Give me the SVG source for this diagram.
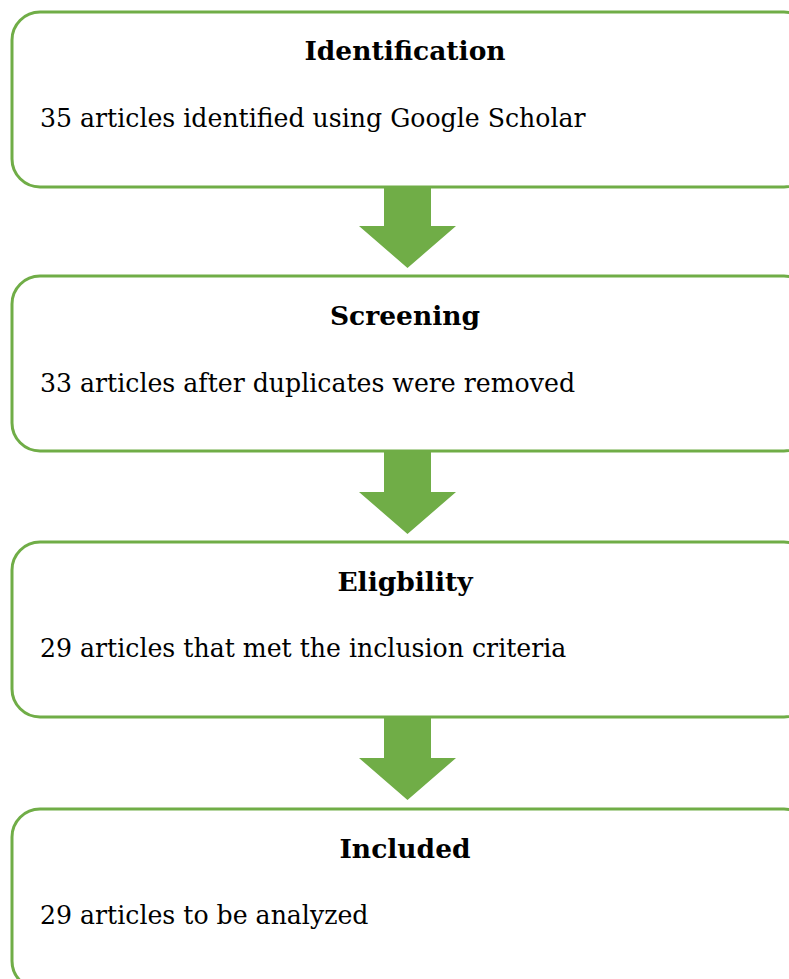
<svg xmlns="http://www.w3.org/2000/svg" width="789" height="979" viewBox="0 0 789 979">
  <style>
    .box { fill: #ffffff; stroke: #70ad47; stroke-width: 3; }
    .arrow { fill: #70ad47; }
    .title { font-family: "DejaVu Serif", "Liberation Serif", serif; font-weight: bold; font-size: 26.5px; fill: #000; text-anchor: middle; }
    .body { font-family: "DejaVu Serif", "Liberation Serif", serif; font-size: 25.2px; fill: #000; }
  </style>
  <rect width="789" height="979" fill="#ffffff"/>

  <g id="identification">
    <rect class="box" x="12" y="12" width="800" height="175" rx="28" ry="28"/>
    <text class="title" x="405" y="60">Identification</text>
    <text class="body" x="40" y="127">35 articles identified using Google Scholar</text>
  </g>

  <g id="screening">
    <rect class="box" x="12" y="276" width="800" height="175" rx="28" ry="28"/>
    <text class="title" x="405" y="325">Screening</text>
    <text class="body" x="40" y="392">33 articles after duplicates were removed</text>
  </g>

  <g id="eligibility">
    <rect class="box" x="12" y="542" width="800" height="175" rx="28" ry="28"/>
    <text class="title" x="405" y="591">Eligbility</text>
    <text class="body" x="40" y="657">29 articles that met the inclusion criteria</text>
  </g>

  <g id="included">
    <rect class="box" x="12" y="809" width="800" height="180" rx="28" ry="28"/>
    <text class="title" x="405" y="858">Included</text>
    <text class="body" x="40" y="924">29 articles to be analyzed</text>
  </g>

  <g id="connectors">
    <polygon class="arrow" points="384,187 431,187 431,226 456,226 407.5,268 359,226 384,226"/>
    <polygon class="arrow" points="384,452 431,452 431,492 456,492 407.5,534 359,492 384,492"/>
    <polygon class="arrow" points="384,718 431,718 431,758 456,758 407.5,800 359,758 384,758"/>
  </g>
</svg>
